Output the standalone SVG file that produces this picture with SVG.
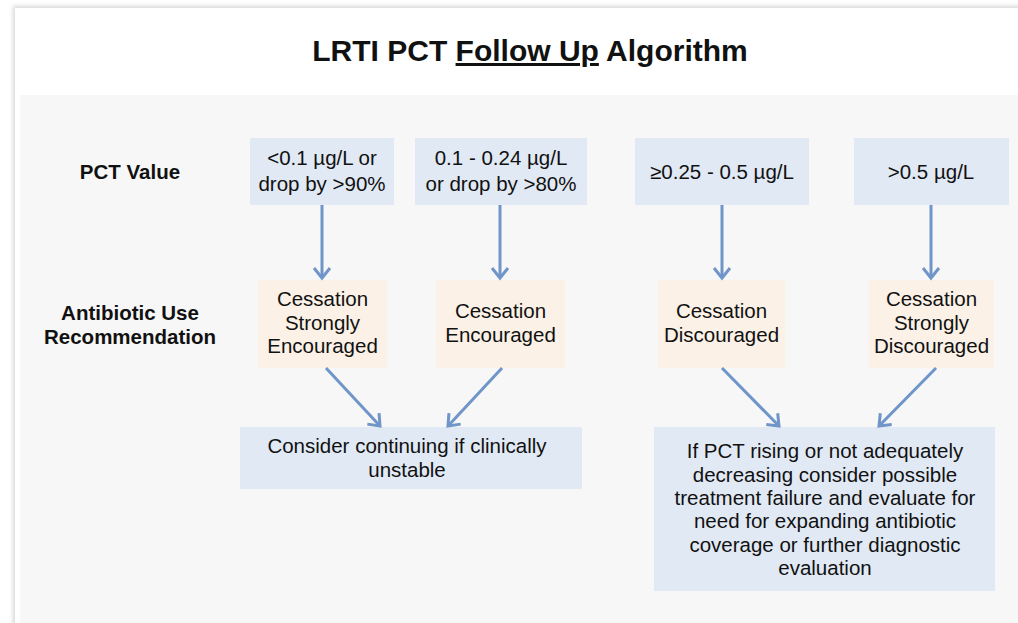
<svg xmlns="http://www.w3.org/2000/svg" width="1018" height="623" viewBox="0 0 1018 623">
<style>
text{font-family:"Liberation Sans",Arial,sans-serif;fill:#111;text-anchor:middle;font-size:20.5px}
.lbl{font-weight:bold}
.blue{fill:#E1E9F5}
.orange{fill:#FBF1E7}
.conn{stroke:#6F95C9;stroke-width:3;fill:none}
</style>
<defs>
<filter id="sh" x="-5%" y="-5%" width="110%" height="110%"><feGaussianBlur stdDeviation="2"/></filter>
<marker id="ah" markerUnits="userSpaceOnUse" markerWidth="20" markerHeight="20" refX="13" refY="10" orient="auto" viewBox="0 0 20 20">
<path d="M3,2 L13,10 L3,18" fill="none" stroke="#6F95C9" stroke-width="3"/>
</marker>
</defs>
<rect width="1018" height="623" fill="#fff"/>
<rect x="13" y="6" width="1040" height="640" fill="#d8d8d8" filter="url(#sh)"/>
<rect x="15" y="8" width="1030" height="640" fill="#fff"/>
<rect x="20" y="95" width="1010" height="540" fill="#F7F7F7"/>
<text x="530" y="61" style="font-size:30px;font-weight:bold">LRTI PCT <tspan text-decoration="underline">Follow Up</tspan> Algorithm</text>
<g id="label-pct"><text class="lbl" x="130" y="179">PCT Value</text></g>
<g id="label-rec"><text class="lbl" x="130" y="320">Antibiotic Use</text><text class="lbl" x="130" y="344">Recommendation</text></g>
<g id="pct1"><rect class="blue" x="250" y="138" width="144" height="67"/><text x="322" y="165">&lt;0.1 µg/L or</text><text x="322" y="191">drop by &gt;90%</text></g>
<g id="pct2"><rect class="blue" x="415" y="138" width="172" height="67"/><text x="501" y="165">0.1 - 0.24 µg/L</text><text x="501" y="191">or drop by &gt;80%</text></g>
<g id="pct3"><rect class="blue" x="635" y="138" width="174" height="67"/><text x="722" y="179">≥0.25 - 0.5 µg/L</text></g>
<g id="pct4"><rect class="blue" x="854" y="138" width="155" height="67"/><text x="931" y="179">&gt;0.5 µg/L</text></g>
<g id="rec1"><rect class="orange" x="258" y="280" width="129" height="88"/><text x="322.5" y="306">Cessation</text><text x="322.5" y="330">Strongly</text><text x="322.5" y="353">Encouraged</text></g>
<g id="rec2"><rect class="orange" x="436" y="280" width="129" height="88"/><text x="500.5" y="318">Cessation</text><text x="500.5" y="342">Encouraged</text></g>
<g id="rec3"><rect class="orange" x="658" y="280" width="127" height="88"/><text x="721.5" y="318">Cessation</text><text x="721.5" y="342">Discouraged</text></g>
<g id="rec4"><rect class="orange" x="869" y="280" width="125" height="88"/><text x="931.5" y="306">Cessation</text><text x="931.5" y="330">Strongly</text><text x="931.5" y="353">Discouraged</text></g>
<g id="continue"><rect class="blue" x="240" y="427" width="342" height="62"/><text x="407" y="453">Consider continuing if clinically</text><text x="407" y="477">unstable</text></g>
<g id="failure"><rect class="blue" x="654" y="427" width="341" height="164"/>
<text x="825" y="458">If PCT rising or not adequately</text>
<text x="825" y="482">decreasing consider possible</text>
<text x="825" y="505">treatment failure and evaluate for</text>
<text x="825" y="528">need for expanding antibiotic</text>
<text x="825" y="552">coverage or further diagnostic</text>
<text x="825" y="575">evaluation</text></g>
<g id="connectors">
<line class="conn" x1="322" y1="205" x2="322" y2="278" marker-end="url(#ah)"/>
<line class="conn" x1="500" y1="205" x2="500" y2="278" marker-end="url(#ah)"/>
<line class="conn" x1="722" y1="205" x2="722" y2="278" marker-end="url(#ah)"/>
<line class="conn" x1="931" y1="205" x2="931" y2="278" marker-end="url(#ah)"/>
<line class="conn" x1="326" y1="368" x2="380" y2="426" marker-end="url(#ah)"/>
<line class="conn" x1="502" y1="368" x2="448" y2="426" marker-end="url(#ah)"/>
<line class="conn" x1="722" y1="368" x2="779" y2="426" marker-end="url(#ah)"/>
<line class="conn" x1="936" y1="368" x2="879" y2="426" marker-end="url(#ah)"/>
</g>
</svg>
